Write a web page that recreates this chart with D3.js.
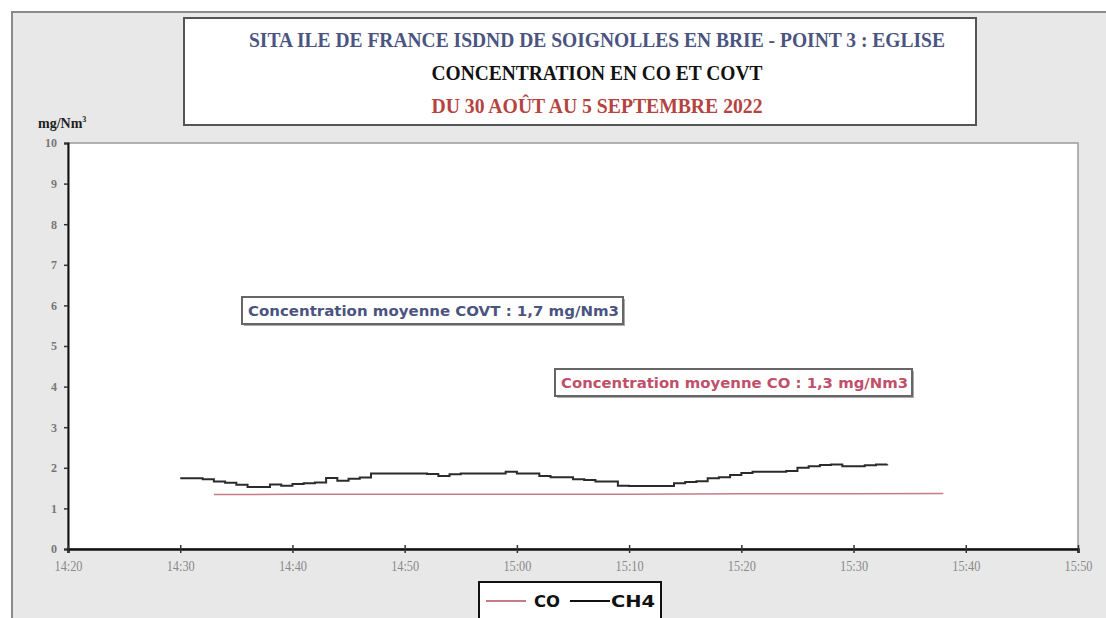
<!DOCTYPE html>
<html><head><meta charset="utf-8">
<script src="https://cdn.jsdelivr.net/npm/d3@7"></script>
<style>body{margin:0;background:#fff}svg{display:block}</style>
</head><body>
<svg id="c" width="1106" height="618"></svg>
<script>
const titleLines = ["SITA ILE DE FRANCE  ISDND DE SOIGNOLLES EN BRIE - POINT 3 : EGLISE","CONCENTRATION EN CO ET COVT","DU 30 AOÛT AU 5 SEPTEMBRE 2022"];
const yTicks = [0,1,2,3,4,5,6,7,8,9,10];
const xTickLabels = ["14:20","14:30","14:40","14:50","15:00","15:10","15:20","15:30","15:40","15:50"];
const ch4Times = ["14:30","14:31","14:32","14:33","14:34","14:35","14:36","14:37","14:38","14:39","14:40","14:41","14:42","14:43","14:44","14:45","14:46","14:47","14:48","14:49","14:50","14:51","14:52","14:53","14:54","14:55","14:56","14:57","14:58","14:59","15:00","15:01","15:02","15:03","15:04","15:05","15:06","15:07","15:08","15:09","15:10","15:11","15:12","15:13","15:14","15:15","15:16","15:17","15:18","15:19","15:20","15:21","15:22","15:23","15:24","15:25","15:26","15:27","15:28","15:29","15:30","15:31","15:32","15:33"];
const ch4Values = [1.74,1.74,1.72,1.66,1.63,1.58,1.53,1.53,1.59,1.56,1.60,1.62,1.64,1.75,1.68,1.73,1.76,1.86,1.86,1.86,1.86,1.86,1.85,1.80,1.84,1.86,1.86,1.86,1.86,1.90,1.86,1.86,1.80,1.77,1.77,1.72,1.70,1.66,1.66,1.56,1.55,1.55,1.55,1.55,1.62,1.65,1.67,1.74,1.77,1.82,1.87,1.90,1.90,1.90,1.92,2.00,2.04,2.07,2.08,2.04,2.04,2.06,2.08,2.09];
const coTimes = ["14:33","14:40","14:50","15:00","15:10","15:20","15:30","15:38"];
const coValues = [1.34,1.35,1.35,1.35,1.35,1.36,1.36,1.37];
const notes = ["Concentration moyenne COVT : 1,7 mg/Nm3","Concentration moyenne CO : 1,3 mg/Nm3"];
const legendNames = ["CO","CH4"];

const svg = d3.select("#c");
const toMin = s => { const [h,m] = s.split(":").map(Number); return h*60+m; };
const M = {l:68, t:143, r:1078, b:549};
const x = d3.scaleLinear().domain([toMin("14:20"), toMin("15:50")]).range([M.l, M.r]);
const y = d3.scaleLinear().domain([0,10]).range([M.b, M.t]);

// outer frame
svg.append("rect").attr("x",12).attr("y",12).attr("width",1100).attr("height",620)
  .attr("fill","#e8e8e8").attr("stroke","#8a8a8a").attr("stroke-width",2);
// plot area
svg.append("rect").attr("x",M.l).attr("y",M.t).attr("width",M.r-M.l).attr("height",M.b-M.t)
  .attr("fill","#fff").attr("stroke","#9a9a9a").attr("stroke-width",1.5);

// title box
svg.append("rect").attr("x",184).attr("y",18).attr("width",792).attr("height",107)
  .attr("fill","#fff").attr("stroke","#555").attr("stroke-width",2);
const tcol = ["#4b5480","#111","#b5443f"], ty=[47,80,113], tw=[696,331,331];
titleLines.forEach((t,i)=>{
  svg.append("text").attr("x",597).attr("y",ty[i]).attr("text-anchor","middle")
    .attr("font-family","Liberation Serif").attr("font-weight","bold").attr("font-size",20)
    .attr("fill",tcol[i]).attr("textLength",tw[i]).attr("lengthAdjust","spacingAndGlyphs").text(t);
});

// axes
const yAxis = d3.axisLeft(y).tickValues(yTicks).tickSize(4).tickFormat(d3.format("d"));
const gy = svg.append("g").attr("transform",`translate(${M.l},0)`).call(yAxis);
gy.select(".domain").attr("stroke","#111").attr("stroke-width",2);
gy.selectAll(".tick line").attr("stroke","#333").attr("stroke-width",1.5);
gy.selectAll(".tick text").attr("font-family","Liberation Serif").attr("font-weight","bold").attr("font-size",12).attr("fill","#777").attr("dx",-4);

const xAxis = d3.axisBottom(x).tickValues(xTickLabels.map(toMin)).tickSize(4)
  .tickFormat((d,i)=>xTickLabels[i]);
const gx = svg.append("g").attr("transform",`translate(0,${M.b})`).call(xAxis);
gx.select(".domain").attr("stroke","#111").attr("stroke-width",2.5);
gx.selectAll(".tick line").attr("stroke","#333").attr("stroke-width",1.5).attr("y1",-4);
gx.selectAll(".tick text").attr("font-family","Liberation Serif").attr("font-size",14).attr("fill","#888").attr("dy",15)
  .attr("textLength",28).attr("lengthAdjust","spacingAndGlyphs");

svg.append("text").attr("x",38).attr("y",128).attr("font-family","Liberation Serif").attr("font-weight","bold")
  .attr("font-size",14).attr("fill","#222").text("mg/Nm").append("tspan").attr("dy",-6).attr("font-size",8).text("3");

// lines
const line = d3.line().x(d=>x(d[0])).y(d=>y(d[1]));
svg.append("path").datum(coTimes.map((t,i)=>[toMin(t),coValues[i]]))
  .attr("d",line).attr("fill","none").attr("stroke","#c97a87").attr("stroke-width",1.5);
svg.append("path").datum(ch4Times.map((t,i)=>[toMin(t),ch4Values[i]]))
  .attr("d",line.curve(d3.curveStepAfter)).attr("fill","none").attr("stroke","#2b2b2b").attr("stroke-width",2);

// annotation boxes
const nb = [{x:242,y:297,w:381,h:27,c:"#4b5480"},{x:555,y:369,w:357,h:27,c:"#c0506a"}];
notes.forEach((t,i)=>{
  const b = nb[i];
  svg.append("rect").attr("x",b.x+2).attr("y",b.y+2).attr("width",b.w).attr("height",b.h).attr("fill","#aaa");
  svg.append("rect").attr("x",b.x).attr("y",b.y).attr("width",b.w).attr("height",b.h)
    .attr("fill","#fff").attr("stroke","#666").attr("stroke-width",2);
  svg.append("text").attr("x",b.x+6).attr("y",b.y+19).attr("font-family","DejaVu Sans Condensed, DejaVu Sans")
    .attr("font-weight","bold").attr("font-size",14).attr("fill",b.c)
    .attr("textLength",b.w-10).attr("lengthAdjust","spacingAndGlyphs").text(t);
});

// legend
svg.append("rect").attr("x",479).attr("y",582).attr("width",182).attr("height",40)
  .attr("fill","#fff").attr("stroke","#111").attr("stroke-width",2);
const lc = ["#c97a87","#111"], lx=[486,570], tx=[534,611], tl=[26,44];
legendNames.forEach((n,i)=>{
  svg.append("line").attr("x1",lx[i]).attr("x2",lx[i]+40).attr("y1",601).attr("y2",601)
    .attr("stroke",lc[i]).attr("stroke-width",2);
  svg.append("text").attr("x",tx[i]).attr("y",607).attr("font-family","DejaVu Sans Condensed, DejaVu Sans")
    .attr("font-weight","bold").attr("font-size",15).attr("fill","#111")
    .attr("textLength",tl[i]).attr("lengthAdjust","spacingAndGlyphs").text(n);
});
</script>
</body></html>
